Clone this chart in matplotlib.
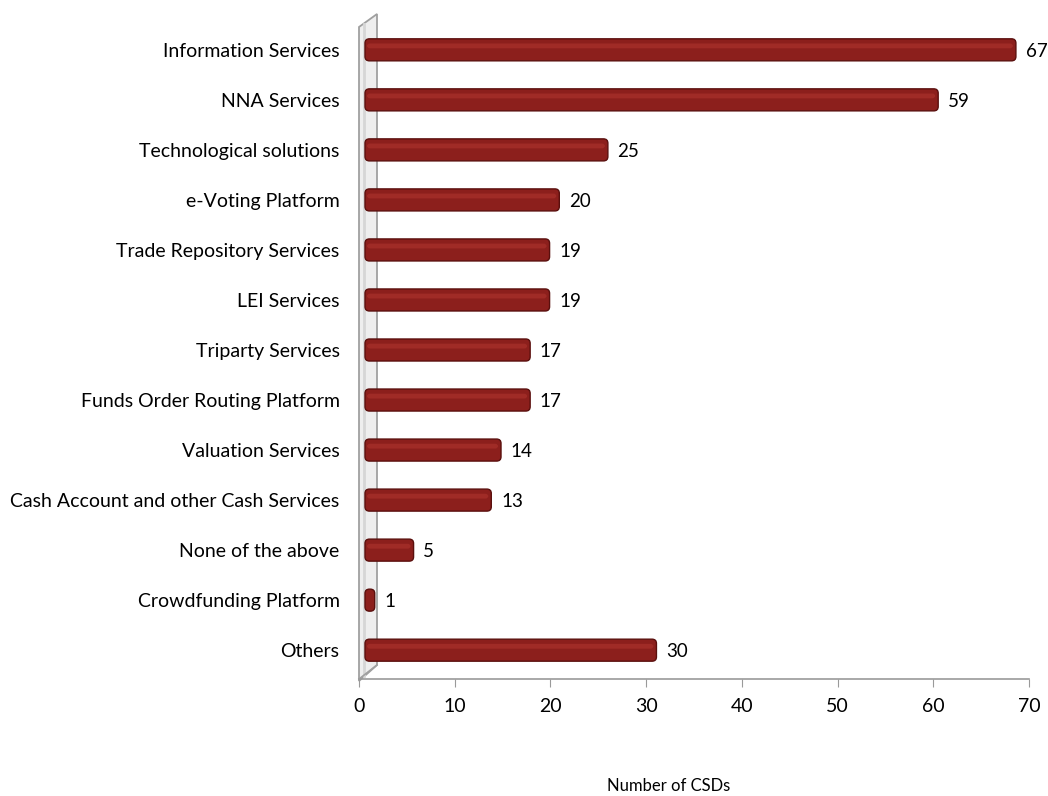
import numpy as np
import matplotlib
matplotlib.use('Agg')
import matplotlib.pyplot as plt
from matplotlib.patches import FancyBboxPatch, Polygon
from matplotlib.transforms import Affine2D, ScaledTranslation

# categories listed bottom -> top
categories = ['Others', 'Crowdfunding Platform', 'None of the above',
              'Cash Account and other Cash Services', 'Valuation Services',
              'Funds Order Routing Platform', 'Triparty Services', 'LEI Services',
              'Trade Repository Services', 'e-Voting Platform',
              'Technological solutions', 'NNA Services', 'Information Services']
values = [30, 1, 5, 13, 14, 17, 17, 19, 19, 20, 25, 59, 67]
xticks = [0, 10, 20, 30, 40, 50, 60, 70]

plt.rcParams['font.family'] = ['Lato', 'DejaVu Sans']

W, H = 1048, 796
fig = plt.figure(figsize=(W / 100, H / 100), dpi=100)
ax = fig.add_axes([359 / W, (H - 679) / H, 670 / W, 665 / H])
ax.set_xlim(0, 70)
ax.set_ylim(-0.576, 12.716)

# side wall of the 3D look (decoration only)
wall = Polygon([(359, H - 681), (359, H - 27), (377, H - 14), (377, H - 665)],
               closed=True, transform=None, facecolor='#eeeeee',
               edgecolor='#a0a0a0', linewidth=1.3, zorder=0.5, clip_on=False)
ax.add_artist(wall)
ax.add_artist(plt.Line2D([364, 364], [H - 676, H - 24], transform=None,
                         color='#d6d6d6', linewidth=2, zorder=0.6, clip_on=False))
ax.add_artist(plt.Line2D([359, 377], [H - 679, H - 665], transform=None,
                         color='#a0a0a0', linewidth=1.2, zorder=0.7, clip_on=False))

bar_tr = (Affine2D().scale(1.015, 1) + ax.transData
          + ScaledTranslation(6 / 100, 0, fig.dpi_scale_trans))
bar_h = 0.44
xpp = 70 / 670
ypp = (12.716 + 0.576) / 665
for y, v in zip(range(len(values)), values):
    p = FancyBboxPatch((0, y - bar_h / 2), v, bar_h,
                       boxstyle='round,pad=0,rounding_size=0.45',
                       mutation_aspect=ypp / xpp,
                       facecolor='#8c1f1c', edgecolor='#5a0f0d',
                       linewidth=1.0, transform=bar_tr, zorder=3)
    ax.add_patch(p)
    if v > 2:
        hl = FancyBboxPatch((0.2, y + 0.03), v - 0.5, bar_h * 0.22,
                            boxstyle='round,pad=0,rounding_size=0.3',
                            mutation_aspect=ypp / xpp,
                            facecolor='#a02b26', edgecolor='none',
                            transform=bar_tr, zorder=4)
        ax.add_patch(hl)
    ax.annotate(str(v), xy=(v, y), xycoords=bar_tr, xytext=(7, -1),
                textcoords='offset points', ha='left', va='center',
                fontsize=13.5, color='black')

ax.set_yticks(range(len(categories)))
ax.set_yticklabels(categories, fontsize=14)
ax.tick_params(axis='y', length=0, pad=14)
ax.set_xticks(xticks)
ax.set_xticklabels([str(t) for t in xticks], fontsize=14)
ax.tick_params(axis='x', length=6, color='#9a9a9a', pad=8)
for s in ['left', 'top', 'right']:
    ax.spines[s].set_visible(False)
ax.spines['bottom'].set_color('#9a9a9a')
ax.spines['bottom'].set_linewidth(1.2)

fig.text(669 / W, (H - 786) / H, 'Number of CSDs', ha='center', va='center',
         fontsize=12)

fig.savefig('out.png', dpi=100)
